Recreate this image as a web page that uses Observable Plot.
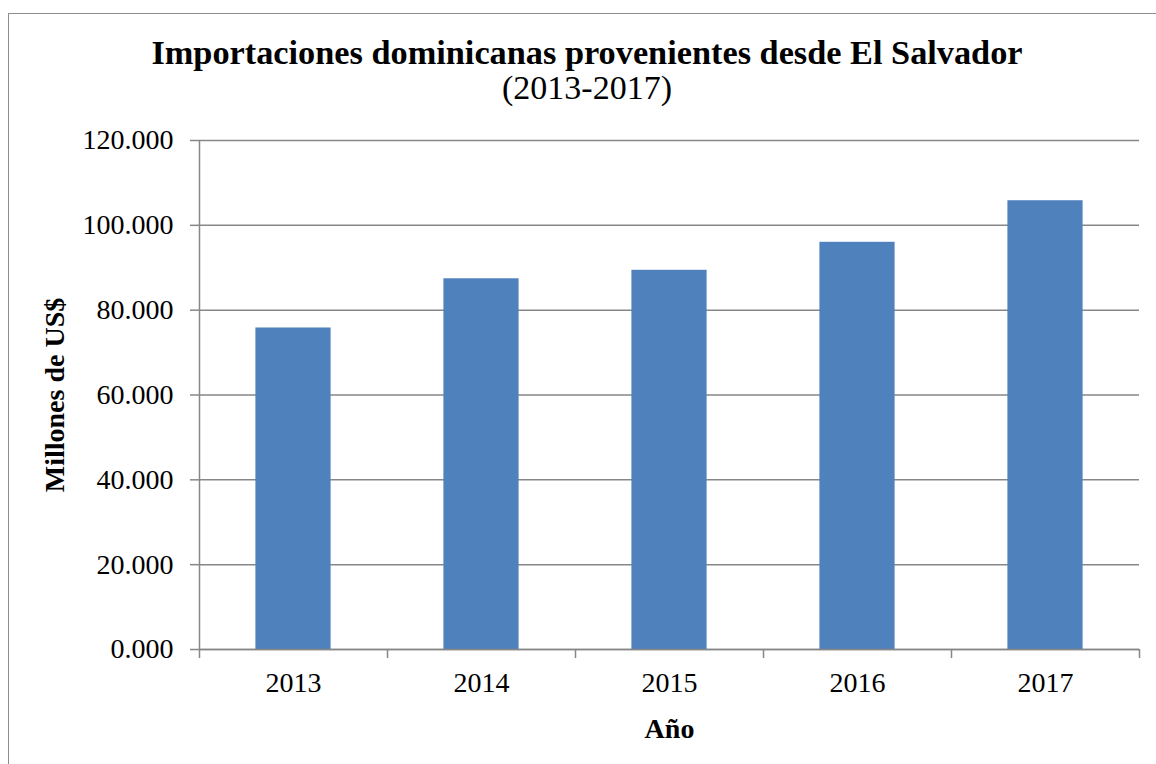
<!DOCTYPE html>
<html>
<head>
<meta charset="utf-8">
<script src="https://cdn.jsdelivr.net/npm/d3@7"></script>
<script src="https://cdn.jsdelivr.net/npm/@observablehq/plot@0.6"></script>
<style>
  html, body { margin: 0; padding: 0; background: #fff; }
  #wrap { position: relative; width: 1156px; height: 764px; overflow: hidden; font-family: "Liberation Serif", serif; }
  #frame { position: absolute; left: 8px; top: 13px; width: 1300px; height: 900px; border: 1px solid #8c8c8c; box-sizing: border-box; }
  #head { position: relative; height: 110px; }
  .t { position: absolute; left: 9px; width: 1156px; text-align: center; font-size: 34px; line-height: 36px; color: #000; white-space: nowrap; }
  #title { top: 34px; font-weight: bold; font-size: 34.3px; }
  #subtitle { top: 70px; }
  #chart { position: relative; }
  #chart g[aria-label="y-axis label"] text, #chart g[aria-label="x-axis label"] text { font-weight: bold; }
</style>
</head>
<body>
<div id="wrap">
  <div id="frame"></div>
  <div id="head">
    <div class="t" id="title">Importaciones dominicanas provenientes desde El Salvador</div>
    <div class="t" id="subtitle">(2013-2017)</div>
  </div>
  <div id="chart"></div>
</div>
<script>
const years = [2013, 2014, 2015, 2016, 2017];
const values = [75.8, 87.4, 89.4, 96.0, 105.8];
const yTicks = [0, 20, 40, 60, 80, 100, 120];
const boundaries = [2012.5, 2013.5, 2014.5, 2015.5, 2016.5, 2017.5];

const data = years.map((year, i) => ({year, value: values[i]}));
const gray = "#878787";
const barHalf = 0.2;

const chart = Plot.plot({
  width: 1156,
  height: 654,
  marginTop: 30,
  marginBottom: 115,
  marginLeft: 199,
  marginRight: 17,
  style: {fontFamily: "Liberation Serif, serif", fontSize: "28px", color: "#000", background: "transparent", overflow: "visible"},
  x: {type: "linear", domain: [2012.5, 2017.5]},
  y: {domain: [0, 120]},
  marks: [
    Plot.gridY(yTicks, {stroke: gray, strokeOpacity: 1, strokeWidth: 1.5}),
    Plot.rectY(data, {x1: d => d.year - barHalf, x2: d => d.year + barHalf, y1: 0, y2: "value", fill: "#4F81BD"}),
    Plot.ruleX([2012.5], {stroke: gray, strokeWidth: 1.5}),
    Plot.ruleY([0], {stroke: gray, strokeWidth: 1.5}),
    Plot.axisY({ticks: yTicks, tickFormat: d3.format(".3f"), tickSize: 9, tickPadding: 17, stroke: gray, strokeWidth: 1.5,
      label: "Millones de US$", labelAnchor: "center", labelArrow: "none", labelOffset: 155}),
    Plot.axisX({ticks: boundaries, tickFormat: () => "", tickSize: 9, stroke: gray, strokeWidth: 1.5, label: null}),
    Plot.axisX({ticks: years, tickFormat: d => String(d), tickSize: 0, tickPadding: 23,
      label: "Año", labelAnchor: "center", labelArrow: "none", labelOffset: 88})
  ]
});
document.getElementById("chart").appendChild(chart);
</script>
</body>
</html>
